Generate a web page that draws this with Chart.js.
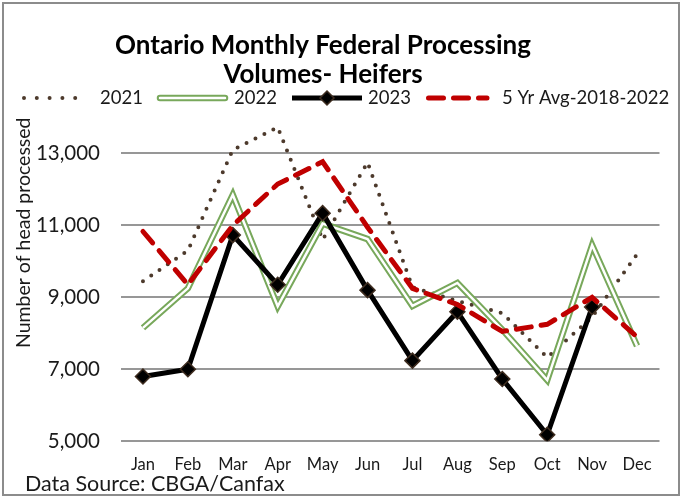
<!DOCTYPE html>
<html>
<head>
<meta charset="utf-8">
<script src="https://cdn.jsdelivr.net/npm/chart.js@4/dist/chart.umd.min.js"></script>
<style>
  html, body { margin: 0; padding: 0; background: #fff; }
  canvas { display: block; }
</style>
</head>
<body>
<canvas id="c" width="684" height="499"></canvas>
<script>
// ---- data ----
const months = ['Jan','Feb','Mar','Apr','May','Jun','Jul','Aug','Sep','Oct','Nov','Dec'];
const y2021 = [9450, 10300, 13100, 13730, 10600, 12750, 9280, 8900, 8560, 7330, 8450, 10200];
const y2022 = [8150, 9250, 11850, 8750, 11050, 10620, 8760, 9400, 8100, 6700, 10450, 7650];
const y2023 = [6800, 7000, 10730, 9350, 11340, 9200, 7240, 8600, 6730, 5180, 8730, null];
const avg5  = [10830, 9350, 11000, 12150, 12770, 10950, 9250, 8800, 8050, 8250, 9000, 7900];
const yTicks = [5000, 7000, 9000, 11000, 13000];
const seriesNames = ['2021', '2022', '2023', '5 Yr Avg-2018-2022'];
const titleLines = ['Ontario Monthly Federal Processing', 'Volumes- Heifers'];
const yTitle = 'Number of head processed';
const sourceNote = 'Data Source: CBGA/Canfax';

// ---- styles ----
const C_BROWN = '#4d3a2c';
const C_GREEN = '#78a85b';
const C_BLACK = '#000000';
const C_MARK = '#3e2c1f';
const C_RED = '#c00000';
const C_TEXT = '#1a1a1a';
const FONT = 'Lato';

const framePlugin = {
  id: 'frame',
  beforeDraw(chart) {
    const ctx = chart.ctx;
    ctx.save();
    ctx.fillStyle = '#ffffff';
    ctx.fillRect(0, 0, chart.width, chart.height);
    ctx.strokeStyle = '#8c8c8c';
    ctx.lineWidth = 2;
    ctx.strokeRect(3, 3, 676, 492);
    ctx.restore();
  },
  afterLayout(chart) {
    if (chart.titleBlock) {
      chart.titleBlock.left = 8;
      chart.titleBlock.right = 638;
    }
  }
};

const legendPlugin = {
  id: 'customLegend',
  afterDraw(chart) {
    const ctx = chart.ctx;
    const y = 98;
    ctx.save();
    ctx.font = '18.5px ' + FONT;
    ctx.fillStyle = C_TEXT;
    ctx.textBaseline = 'middle';
    ctx.textAlign = 'left';
    // 2021 dotted
    ctx.strokeStyle = C_BROWN; ctx.lineWidth = 4; ctx.lineCap = 'round';
    ctx.setLineDash([0, 12.8]);
    ctx.beginPath(); ctx.moveTo(24, y); ctx.lineTo(88, y); ctx.stroke();
    ctx.setLineDash([]);
    ctx.fillText(seriesNames[0], 100, y);
    // 2022 double line
    ctx.lineCap = 'round';
    ctx.strokeStyle = C_GREEN; ctx.lineWidth = 6.5;
    ctx.beginPath(); ctx.moveTo(160, y); ctx.lineTo(225, y); ctx.stroke();
    ctx.strokeStyle = '#ffffff'; ctx.lineWidth = 2.5;
    ctx.beginPath(); ctx.moveTo(160, y); ctx.lineTo(225, y); ctx.stroke();
    ctx.fillText(seriesNames[1], 234, y);
    // 2023 line with diamond
    ctx.lineCap = 'butt';
    ctx.strokeStyle = C_BLACK; ctx.lineWidth = 5;
    ctx.beginPath(); ctx.moveTo(292, y); ctx.lineTo(362, y); ctx.stroke();
    ctx.beginPath();
    ctx.moveTo(327, y - 7); ctx.lineTo(334, y); ctx.lineTo(327, y + 7); ctx.lineTo(320, y); ctx.closePath();
    ctx.fillStyle = C_BLACK; ctx.fill();
    ctx.strokeStyle = C_MARK; ctx.lineWidth = 1.5; ctx.stroke();
    ctx.fillStyle = C_TEXT;
    ctx.fillText(seriesNames[2], 368, y);
    // 5 yr avg dashed
    ctx.strokeStyle = C_RED; ctx.lineWidth = 5; ctx.lineCap = 'round';
    ctx.setLineDash([15, 10]);
    ctx.beginPath(); ctx.moveTo(428.5, y); ctx.lineTo(487, y); ctx.stroke();
    ctx.setLineDash([]);
    ctx.fillText(seriesNames[3], 502, y);
    ctx.restore();
  }
};

new Chart(document.getElementById('c'), {
  type: 'line',
  data: {
    labels: months,
    datasets: [
      { label: seriesNames[0], data: y2021, borderColor: C_BROWN, borderWidth: 4,
        borderDash: [0, 10], borderCapStyle: 'round', pointRadius: 0, tension: 0, order: 5 },
      { label: seriesNames[1], data: y2022, borderColor: C_GREEN, borderWidth: 6.5,
        pointRadius: 0, tension: 0, order: 4 },
      { label: seriesNames[1] + ' gap', data: y2022, borderColor: '#ffffff', borderWidth: 2.5,
        pointRadius: 0, tension: 0, order: 3 },
      { label: seriesNames[2], data: y2023, borderColor: C_BLACK, borderWidth: 5,
        pointStyle: 'rectRot', pointRadius: 7.5, pointBackgroundColor: C_BLACK,
        pointBorderColor: C_MARK, pointBorderWidth: 1.5, tension: 0, order: 2 },
      { label: seriesNames[3], data: avg5, borderColor: C_RED, borderWidth: 5,
        borderDash: [15, 10], borderCapStyle: 'round', pointRadius: 0, tension: 0, order: 1 }
    ]
  },
  options: {
    responsive: false,
    animation: false,
    devicePixelRatio: 1,
    events: [],
    layout: { padding: { left: 25, right: 24.5, top: 10, bottom: 2.4 } },
    plugins: {
      legend: { display: false },
      tooltip: { enabled: false },
      title: {
        display: true, text: titleLines, color: '#000',
        font: { family: FONT, size: 26, weight: 'bold', lineHeight: 1.115 },
        padding: { top: 21.5, bottom: 28 }
      },
      subtitle: {
        display: true, position: 'bottom', align: 'start', text: sourceNote, color: C_TEXT,
        font: { family: FONT, size: 21.5 }, padding: { top: -4.4, bottom: 0 }
      }
    },
    scales: {
      x: {
        type: 'category', offset: true,
        grid: { display: false, drawTicks: false },
        border: { display: false },
        ticks: { color: C_TEXT, font: { family: FONT, size: 16.5 }, padding: 14,
                 maxRotation: 0, autoSkip: false },
        afterFit(s) { s.height = 34; }
      },
      y: {
        min: 5000, max: 14000,
        afterBuildTicks(s) { s.ticks = yTicks.map(v => ({ value: v })); },
        grid: { color: '#979797', lineWidth: 2, drawTicks: false },
        border: { display: false },
        ticks: { color: C_TEXT, font: { family: FONT, size: 20.5 }, padding: 20.5,
                 callback: v => Number(v).toLocaleString('en-US') },
        title: { display: true, text: yTitle, align: 'end', color: C_TEXT,
                 font: { family: FONT, size: 19.5 }, padding: { top: -13, bottom: 0 } },
        afterFit(s) { s.width = 95.5; }
      }
    }
  },
  plugins: [framePlugin, legendPlugin]
});
</script>
</body>
</html>
